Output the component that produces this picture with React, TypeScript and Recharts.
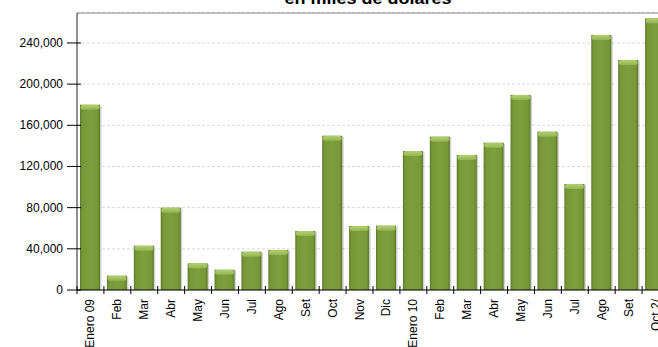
import React from "react";
import { BarChart, Bar, XAxis, YAxis, CartesianGrid, ReferenceLine } from "recharts";

const categories = ["Enero 09", "Feb", "Mar", "Abr", "May", "Jun", "Jul", "Ago", "Set", "Oct", "Nov", "Dic", "Enero 10", "Feb", "Mar", "Abr", "May", "Jun", "Jul", "Ago", "Set", "Oct 2/"];
const values = [180000, 13900, 43000, 80000, 25900, 19700, 37200, 38900, 57300, 149900, 62200, 62500, 135000, 149000, 131200, 143100, 189500, 153800, 103000, 247800, 223500, 264000];
const yTicks = [0, 40000, 80000, 120000, 160000, 200000, 240000];
const yMax = 269100;
const title = "en miles de dolares";

const data = categories.map((c, i) => ({ key: String(i), label: c, value: values[i] }));

const CW = 680;
const CH = 347;
const M = { top: 13, right: 11, left: 0, bottom: 0 };
const YW = 77;
const BW = (CW - M.left - M.right - YW) / categories.length;
const FONT = "'Liberation Sans', Arial, sans-serif";

const fmt = (v: number) => v.toLocaleString("en-US");

const XTick = (props: any) => {
  const { x, y, payload } = props;
  const idx = payload.index ?? Number(payload.value);
  const lx = x - BW / 2;
  return (
    <g>
      <line x1={lx} x2={lx} y1={y - 4} y2={y + 4} stroke="#000" strokeWidth={1} />
      <text x={0} y={0} transform={`translate(${x + 4},${y + 9}) rotate(-90)`} textAnchor="end" fontFamily={FONT} fontSize={12} fill="#000">
        {categories[idx]}
      </text>
    </g>
  );
};

const YTick = (props: any) => {
  const { x, y, payload } = props;
  return (
    <g>
      <line x1={x - 10} x2={x + 4} y1={y} y2={y} stroke="#000" strokeWidth={1} />
      <text x={x - 14} y={y + 4} textAnchor="end" fontFamily={FONT} fontSize={12} fill="#000">
        {fmt(payload.value)}
      </text>
    </g>
  );
};

const BarShape = (props: any) => {
  const { x, y, width, height } = props;
  if (!height || height <= 0) return null;
  const cap = Math.min(5, height);
  return (
    <g>
      <rect x={x + 1.5} y={y + 1} width={width} height={height - 1} fill="rgba(0,0,0,0.18)" />
      <rect x={x} y={y} width={width} height={height} fill="url(#barGrad)" />
      <rect x={x + 0.5} y={y} width={width - 1} height={cap} rx={3} ry={2.5} fill="url(#capGrad)" />
    </g>
  );
};

export default function App() {
  return (
    <div style={{ position: "absolute", left: 0, top: 0, width: 658, height: 347, overflow: "hidden", background: "#fff" }}>
      <BarChart width={CW} height={CH} data={data} margin={M} barSize={20}>
        <defs>
          <linearGradient id="barGrad" x1="0" y1="0" x2="1" y2="0">
            <stop offset="0" stopColor="#5d7a28" />
            <stop offset="0.12" stopColor="#789838" />
            <stop offset="0.5" stopColor="#7e9e3f" />
            <stop offset="0.88" stopColor="#789838" />
            <stop offset="1" stopColor="#5a7626" />
          </linearGradient>
          <linearGradient id="capGrad" x1="0" y1="0" x2="0" y2="1">
            <stop offset="0" stopColor="#b4d072" />
            <stop offset="1" stopColor="#93b552" />
          </linearGradient>
        </defs>
        <CartesianGrid vertical={false} stroke="#d9d9d9" strokeDasharray="3 2" />
        <ReferenceLine y={yMax} stroke="#888" strokeWidth={1} ifOverflow="extendDomain" />
        <XAxis dataKey="key" interval={0} tickSize={0} tickMargin={0} tickLine={false} axisLine={{ stroke: "#000" }} height={57} tick={<XTick />} />
        <YAxis type="number" domain={[0, yMax]} ticks={yTicks} width={YW} tickSize={0} tickMargin={0} tickLine={false} axisLine={{ stroke: "#222" }} tick={<YTick />} />
        <Bar dataKey="value" isAnimationActive={false} shape={<BarShape />} />
      </BarChart>
      <svg style={{ position: "absolute", left: 0, top: 0 }} width={658} height={20}>
        <text x={368} y={4} textAnchor="middle" fontFamily={FONT} fontWeight="bold" fontSize={17} fill="#000" textLength={167} lengthAdjust="spacingAndGlyphs">
          {title}
        </text>
      </svg>
    </div>
  );
}
